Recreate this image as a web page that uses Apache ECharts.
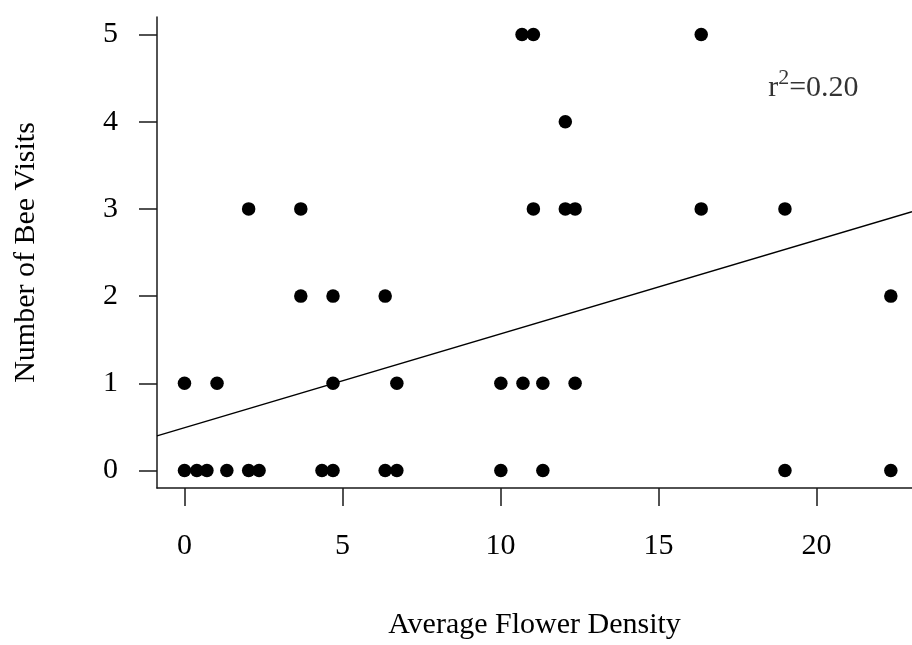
<!DOCTYPE html>
<html>
<head>
<meta charset="utf-8">
<script src="https://cdn.jsdelivr.net/npm/echarts@6/dist/echarts.min.js"></script>
<style>
html,body{margin:0;padding:0;background:#fff;}
#chart{width:912px;height:645px;}
</style>
</head>
<body>
<div id="chart"></div>
<script>
// Data
const flowerDensity = [
  0, 0.39, 0.71, 1.34, 2.03, 2.36, 4.35, 4.70, 6.35, 6.72, 10.01, 11.34, 19.0, 22.35,
  0, 1.03, 4.70, 6.72, 10.01, 10.71, 11.34, 12.36,
  3.68, 4.70, 6.35, 22.35,
  2.03, 3.68, 11.04, 12.05, 12.36, 16.35, 19.0,
  12.05,
  10.68, 11.04, 16.35
];
const beeVisits = [
  0, 0, 0, 0, 0, 0, 0, 0, 0, 0, 0, 0, 0, 0,
  1, 1, 1, 1, 1, 1, 1, 1,
  2, 2, 2, 2,
  3, 3, 3, 3, 3, 3, 3,
  4,
  5, 5, 5
];
const xTicks = [0, 5, 10, 15, 20];
const yTicks = [0, 1, 2, 3, 4, 5];
const fitIntercept = 0.491;
const fitSlope = 0.1076;
const rSquaredLabel = '0.20';
const annotationAt = [19.9, 4.42];

const xMin = -0.87, xMax = 23.02, yMin = -0.2, yMax = 5.2;

const points = flowerDensity.map((x, i) => [x, beeVisits[i]]);
const fitLine = [[xMin, fitIntercept + fitSlope * xMin], [xMax, fitIntercept + fitSlope * xMax]];

const FONT = 'Liberation Serif';
const axisLineStyle = { color: '#1a1a1a', width: 1.5 };

const chart = echarts.init(document.getElementById('chart'), null, { renderer: 'canvas' });
chart.setOption({
  backgroundColor: '#fff',
  animation: false,
  grid: { left: 157, right: 0, top: 17, bottom: 154, containLabel: false },
  xAxis: {
    type: 'value', min: xMin, max: xMax,
    name: 'Average Flower Density', nameLocation: 'middle', nameGap: 122,
    nameTextStyle: { fontFamily: FONT, fontSize: 30, color: '#000' },
    axisLine: { show: true, onZero: false, lineStyle: axisLineStyle },
    axisTick: { show: true, inside: false, length: 18, lineStyle: axisLineStyle, customValues: xTicks },
    axisLabel: { show: true, margin: 43, fontFamily: FONT, fontSize: 30, color: '#000', customValues: xTicks, formatter: v => String(v) },
    splitLine: { show: false }
  },
  yAxis: {
    type: 'value', min: yMin, max: yMax,
    name: 'Number of Bee Visits', nameLocation: 'middle', nameGap: 116, nameRotate: 90,
    nameTextStyle: { fontFamily: FONT, fontSize: 30, color: '#000' },
    axisLine: { show: true, onZero: false, lineStyle: axisLineStyle },
    axisTick: { show: true, inside: false, length: 18, lineStyle: axisLineStyle, customValues: yTicks },
    axisLabel: { show: true, margin: 39, fontFamily: FONT, fontSize: 30, color: '#000', customValues: yTicks, formatter: v => String(v) },
    splitLine: { show: false }
  },
  series: [
    {
      type: 'line', data: fitLine, symbol: 'none', silent: true, clip: true,
      lineStyle: { color: '#000', width: 1.4 }, z: 1
    },
    {
      type: 'scatter', data: points, symbol: 'circle', symbolSize: 13.5,
      itemStyle: { color: '#000', opacity: 1 }, z: 2
    },
    {
      type: 'scatter', data: [annotationAt], symbolSize: 0, silent: true,
      label: {
        show: true, position: 'inside',
        formatter: '{a|r}{b|2}{a|=' + rSquaredLabel + '}',
        rich: {
          a: { fontFamily: FONT, fontSize: 30, color: '#000', lineHeight: 36, verticalAlign: 'bottom' },
          b: { fontFamily: FONT, fontSize: 22, color: '#000', lineHeight: 36, verticalAlign: 'top', padding: [0, 0, 13, 0] }
        }
      }
    }
  ]
});
</script>
</body>
</html>
